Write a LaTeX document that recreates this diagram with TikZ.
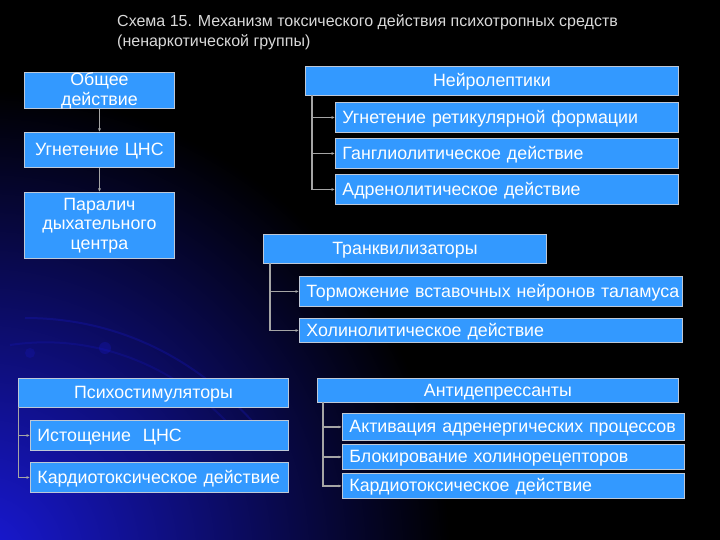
\documentclass[tikz,border=0pt]{standalone}
\usepackage{fontspec}
\setmainfont{Liberation Sans}
\usetikzlibrary{arrows.meta}
\definecolor{boxblue}{RGB}{51,153,255}
\definecolor{boxline}{RGB}{190,200,215}
\definecolor{connc}{RGB}{165,165,165}
\definecolor{glow}{RGB}{25,25,215}
\tikzset{
  box/.style={draw=boxline, line width=0.9pt, fill=boxblue, text=white, font=\fontsize{17.8}{19.5}\selectfont, inner ysep=0pt, anchor=north west},
  one/.style={text height=13pt, text depth=1pt},
  lbox/.style={box, one, align=left, inner xsep=7pt},
  cbox/.style={box, align=center, inner xsep=2pt},
  conn/.style={draw=connc, line width=1.3pt, -{Latex[length=3.5pt,width=3pt]}},
  ttl/.style={text=white!85!black, font=\fontsize{16}{18}\selectfont, anchor=base west, inner sep=0pt}
}
\newcommand{\lb}[6]{\node[lbox, minimum width=#3-#1, minimum height=#4-#2, text width=#3-#1-14] (#5) at (#1,#2) {\mbox{#6}};}
\newcommand{\cb}[6]{\node[cbox, one, minimum width=#3-#1, minimum height=#4-#2, text width=#3-#1-4] (#5) at (#1,#2) {#6};}
\newcommand{\cbm}[6]{\node[cbox, minimum width=#3-#1, minimum height=#4-#2, text width=#3-#1-4] (#5) at (#1,#2) {#6};}
\begin{document}
\begin{tikzpicture}[x=1pt,y=-1pt]
\fill[black] (0,0) rectangle (720,540);
\useasboundingbox (0,0) rectangle (720,540);
\begin{scope}
  \clip (0,0) rectangle (720,540);
  \shade[inner color=glow, outer color=black] (-20,560) circle (470);
  \draw[glow, opacity=0.25, line width=2pt] (25,318) .. controls (120,318) and (200,360) .. (260,430);
  \draw[glow, opacity=0.2, line width=2pt] (10,345) .. controls (110,330) and (200,380) .. (250,450);
  \fill[glow, opacity=0.25] (105,348) circle (6);
  \fill[glow, opacity=0.2] (30,353) circle (5);
\end{scope}

\node[ttl] (t1) at (117,27) {Схема 15. Механизм токсического действия психотропных средств};
\node[ttl] (t2) at (117,47) {(ненаркотической группы)};

% Left column
\cbm{24}{72}{174}{107}{a1}{Общее\\действие}
\cb{24}{132}{174}{167}{a2}{Угнетение ЦНС}
\cbm{24}{192}{174}{258}{a3}{Паралич\\дыхательного\\центра}
\draw[conn] (a1) -- (a2);
\draw[conn] (a2) -- (a3);

% Нейролептики
\cb{305}{66}{678}{95}{n}{Нейролептики}
\lb{335}{102}{678}{132}{n1}{Угнетение ретикулярной формации}
\lb{335}{138}{678}{168}{n2}{Ганглиолитическое действие}
\lb{335}{174}{678}{204}{n3}{Адренолитическое действие}
\coordinate (nt) at (312,95);
\draw[conn] (nt) |- (n1.west);
\draw[conn] (nt) |- (n2.west);
\draw[conn] (nt) |- (n3.west);

% Транквилизаторы
\cb{263}{234}{546}{263}{t}{Транквилизаторы}
\lb{299}{276}{682}{306}{tr1}{Торможение вставочных нейронов таламуса}
\lb{299}{318}{682}{342}{tr2}{Холинолитическое действие}
\coordinate (tt) at (270,263);
\draw[conn] (tt) |- (tr1.west);
\draw[conn] (tt) |- (tr2.west);

% Психостимуляторы
\cb{18}{378}{288}{407}{p}{Психостимуляторы}
\lb{30}{420}{288}{450}{p1}{Истощение\ \ ЦНС}
\lb{30}{462}{288}{492}{p2}{Кардиотоксическое действие}
\coordinate (pt) at (18.5,407);
\draw[conn] (pt) |- (p1.west);
\draw[conn] (pt) |- (p2.west);

% Антидепрессанты
\cb{317}{378}{678}{402}{d}{Антидепрессанты}
\lb{342}{413}{684}{440}{d1}{Активация адренергических процессов}
\lb{342}{444}{684}{469}{d2}{Блокирование холинорецепторов}
\lb{342}{473}{684}{498}{d3}{Кардиотоксическое действие}
\coordinate (dt) at (323,402);
\draw[conn] (dt) |- (d1.west);
\draw[conn] (dt) |- (d2.west);
\draw[conn] (dt) |- (d3.west);
\end{tikzpicture}
\end{document}
